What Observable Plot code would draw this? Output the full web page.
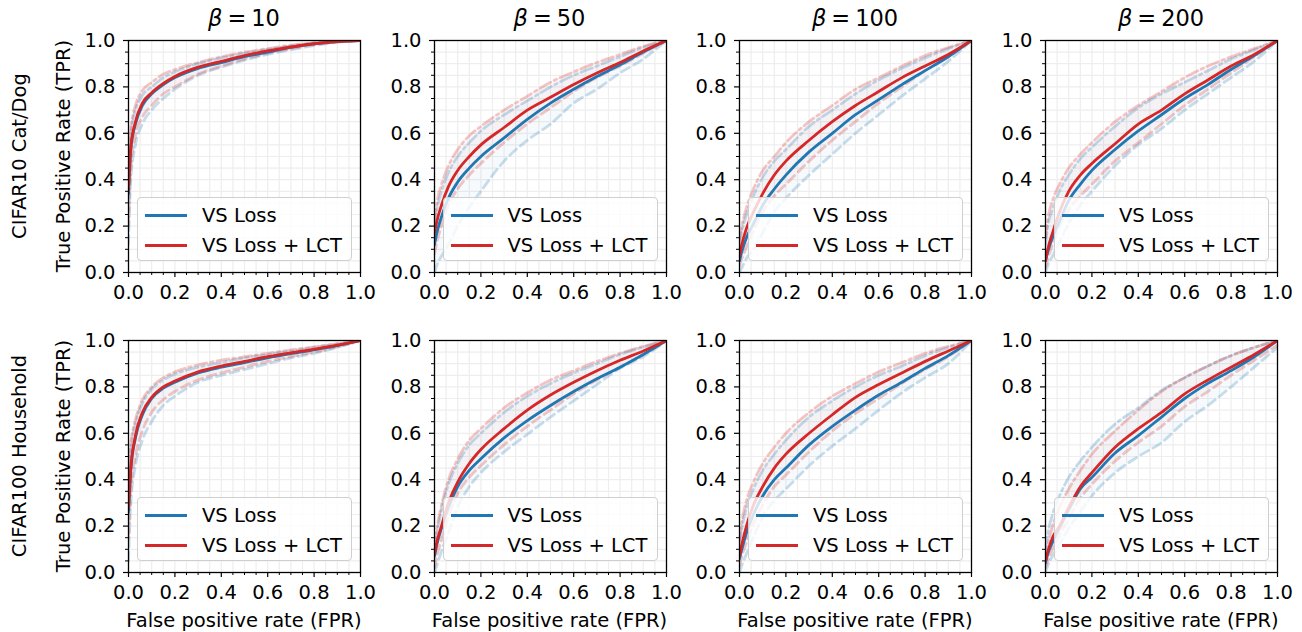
<!DOCTYPE html>
<html>
<head>
<meta charset="utf-8">
<script src="https://cdn.jsdelivr.net/npm/d3@7"></script>
<script src="https://cdn.jsdelivr.net/npm/@observablehq/plot@0.6"></script>
<style>
  body { margin: 0; background: #fff; font-family: "DejaVu Sans", sans-serif; }
  #root { position: relative; width: 1302px; height: 632px; overflow: hidden; background: #fff; }
  .abs { position: absolute; white-space: nowrap; color: #000; line-height: 1; }
  .title { font-size: 22.5px; transform: translateX(-50%); }
  .title .op { margin: 0 5px; }
  .ylab { font-size: 19.5px; transform: translate(-50%, -50%) rotate(-90deg); }
  .xlab { font-size: 19.5px; transform: translate(-50%, -50%); }
  .legend { position: absolute; box-sizing: border-box; width: 215px; height: 64px;
            border: 1px solid #cfcfcf; border-radius: 4px; background: rgba(255,255,255,0.8); }
  .legend .sw { position: absolute; left: 7px; width: 42px; height: 3px; }
  .legend .tx { position: absolute; left: 64px; font-size: 19.5px; line-height: 1; white-space: nowrap; }
  .panel { position: absolute; }
</style>
</head>
<body>
<div id="root"></div>
<script>
// ---------------- data ----------------
const fpr = [0, 0.01, 0.03, 0.06, 0.1, 0.15, 0.2, 0.3, 0.4, 0.5, 0.6, 0.7, 0.8, 0.9, 1.0];
const betas = [10, 50, 100, 200];
const datasets = ["CIFAR10 Cat/Dog", "CIFAR100 Household"];
const seriesNames = ["VS Loss", "VS Loss + LCT"];

// CIFAR10 Cat/Dog, one row per beta (10, 50, 100, 200)
const vsLossC10 = [
  [0.34, 0.53, 0.64, 0.72, 0.77, 0.81, 0.84, 0.88, 0.905, 0.93, 0.95, 0.97, 0.985, 0.995, 1.0],
  [0.12, 0.17, 0.24, 0.32, 0.39, 0.45, 0.50, 0.58, 0.66, 0.73, 0.79, 0.845, 0.895, 0.95, 1.0],
  [0.05, 0.09, 0.15, 0.21, 0.29, 0.36, 0.42, 0.52, 0.60, 0.68, 0.745, 0.81, 0.87, 0.93, 1.0],
  [0.05, 0.09, 0.15, 0.22, 0.31, 0.38, 0.44, 0.53, 0.61, 0.68, 0.75, 0.81, 0.875, 0.935, 1.0]
];
const lctC10 = [
  [0.36, 0.54, 0.65, 0.73, 0.775, 0.815, 0.845, 0.885, 0.91, 0.935, 0.955, 0.972, 0.986, 0.995, 1.0],
  [0.17, 0.22, 0.29, 0.37, 0.44, 0.50, 0.55, 0.625, 0.70, 0.755, 0.81, 0.86, 0.905, 0.955, 1.0],
  [0.07, 0.12, 0.19, 0.26, 0.34, 0.42, 0.48, 0.57, 0.65, 0.72, 0.78, 0.84, 0.89, 0.94, 1.0],
  [0.05, 0.10, 0.17, 0.26, 0.35, 0.42, 0.47, 0.555, 0.64, 0.70, 0.77, 0.83, 0.89, 0.94, 1.0]
];
const vsLossLowC10 = [
  [0.12, 0.40, 0.55, 0.64, 0.70, 0.75, 0.79, 0.85, 0.885, 0.915, 0.94, 0.96, 0.978, 0.992, 1.0],
  [0.0, 0.03, 0.07, 0.12, 0.20, 0.28, 0.35, 0.48, 0.57, 0.64, 0.73, 0.79, 0.86, 0.92, 1.0],
  [0.0, 0.02, 0.06, 0.10, 0.17, 0.26, 0.32, 0.42, 0.51, 0.60, 0.68, 0.76, 0.835, 0.91, 1.0],
  [0.0, 0.03, 0.07, 0.13, 0.21, 0.29, 0.35, 0.46, 0.55, 0.62, 0.70, 0.77, 0.84, 0.91, 1.0]
];
const vsLossHighC10 = [
  [0.45, 0.60, 0.70, 0.765, 0.80, 0.84, 0.865, 0.90, 0.925, 0.945, 0.962, 0.977, 0.99, 0.997, 1.0],
  [0.20, 0.27, 0.35, 0.43, 0.50, 0.56, 0.61, 0.68, 0.74, 0.80, 0.85, 0.89, 0.93, 0.97, 1.0],
  [0.12, 0.18, 0.25, 0.33, 0.41, 0.48, 0.53, 0.63, 0.70, 0.77, 0.83, 0.88, 0.925, 0.965, 1.0],
  [0.12, 0.20, 0.27, 0.35, 0.42, 0.49, 0.54, 0.63, 0.71, 0.77, 0.82, 0.87, 0.92, 0.96, 1.0]
];
const lctLowC10 = [
  [0.20, 0.45, 0.59, 0.67, 0.72, 0.77, 0.80, 0.855, 0.89, 0.92, 0.945, 0.965, 0.982, 0.994, 1.0],
  [0.08, 0.13, 0.20, 0.29, 0.36, 0.42, 0.47, 0.56, 0.64, 0.71, 0.78, 0.84, 0.89, 0.945, 1.0],
  [0.03, 0.06, 0.11, 0.18, 0.26, 0.33, 0.38, 0.48, 0.57, 0.65, 0.73, 0.80, 0.87, 0.93, 1.0],
  [0.02, 0.06, 0.12, 0.20, 0.27, 0.33, 0.38, 0.48, 0.56, 0.64, 0.72, 0.79, 0.86, 0.93, 1.0]
];
const lctHighC10 = [
  [0.50, 0.62, 0.72, 0.785, 0.82, 0.855, 0.875, 0.905, 0.93, 0.95, 0.965, 0.98, 0.99, 0.997, 1.0],
  [0.22, 0.30, 0.38, 0.46, 0.53, 0.59, 0.63, 0.70, 0.76, 0.82, 0.865, 0.905, 0.94, 0.975, 1.0],
  [0.14, 0.20, 0.28, 0.36, 0.44, 0.50, 0.56, 0.65, 0.72, 0.79, 0.84, 0.89, 0.935, 0.97, 1.0],
  [0.15, 0.23, 0.31, 0.38, 0.45, 0.51, 0.56, 0.65, 0.72, 0.78, 0.84, 0.89, 0.93, 0.965, 1.0]
];

// CIFAR100 Household, one row per beta (10, 50, 100, 200)
const vsLossC100 = [
  [0.26, 0.44, 0.58, 0.68, 0.75, 0.795, 0.82, 0.86, 0.885, 0.905, 0.925, 0.943, 0.96, 0.978, 1.0],
  [0.07, 0.12, 0.19, 0.28, 0.37, 0.44, 0.49, 0.58, 0.655, 0.72, 0.78, 0.835, 0.885, 0.94, 1.0],
  [0.06, 0.10, 0.17, 0.25, 0.33, 0.40, 0.45, 0.55, 0.63, 0.70, 0.765, 0.82, 0.88, 0.935, 1.0],
  [0.04, 0.08, 0.13, 0.19, 0.27, 0.36, 0.41, 0.515, 0.59, 0.67, 0.75, 0.815, 0.87, 0.93, 1.0]
];
const lctC100 = [
  [0.28, 0.45, 0.59, 0.69, 0.755, 0.80, 0.825, 0.865, 0.89, 0.91, 0.93, 0.947, 0.962, 0.98, 1.0],
  [0.08, 0.13, 0.20, 0.30, 0.39, 0.47, 0.53, 0.62, 0.70, 0.765, 0.82, 0.87, 0.915, 0.955, 1.0],
  [0.07, 0.12, 0.20, 0.29, 0.37, 0.45, 0.51, 0.60, 0.68, 0.755, 0.81, 0.86, 0.91, 0.955, 1.0],
  [0.05, 0.09, 0.15, 0.20, 0.28, 0.37, 0.43, 0.54, 0.62, 0.69, 0.77, 0.83, 0.885, 0.94, 1.0]
];
const vsLossLowC100 = [
  [0.05, 0.30, 0.46, 0.57, 0.65, 0.72, 0.76, 0.82, 0.85, 0.875, 0.90, 0.925, 0.945, 0.97, 1.0],
  [0.0, 0.03, 0.09, 0.17, 0.28, 0.37, 0.43, 0.52, 0.595, 0.67, 0.74, 0.81, 0.88, 0.93, 1.0],
  [0.0, 0.03, 0.08, 0.15, 0.24, 0.31, 0.36, 0.46, 0.545, 0.62, 0.70, 0.775, 0.84, 0.90, 1.0],
  [0.0, 0.03, 0.07, 0.12, 0.19, 0.26, 0.33, 0.43, 0.50, 0.56, 0.65, 0.72, 0.80, 0.885, 0.97]
];
const vsLossHighC100 = [
  [0.40, 0.53, 0.64, 0.73, 0.79, 0.83, 0.855, 0.885, 0.905, 0.925, 0.94, 0.955, 0.97, 0.985, 1.0],
  [0.10, 0.17, 0.27, 0.38, 0.47, 0.55, 0.60, 0.69, 0.76, 0.815, 0.86, 0.90, 0.94, 0.972, 1.0],
  [0.12, 0.19, 0.28, 0.36, 0.44, 0.51, 0.57, 0.67, 0.74, 0.80, 0.85, 0.89, 0.935, 0.97, 1.0],
  [0.10, 0.17, 0.25, 0.33, 0.41, 0.48, 0.54, 0.64, 0.71, 0.785, 0.84, 0.89, 0.935, 0.97, 1.0]
];
const lctLowC100 = [
  [0.15, 0.35, 0.50, 0.61, 0.69, 0.745, 0.78, 0.83, 0.86, 0.885, 0.91, 0.93, 0.95, 0.972, 1.0],
  [0.02, 0.07, 0.14, 0.24, 0.34, 0.41, 0.46, 0.55, 0.63, 0.70, 0.77, 0.83, 0.885, 0.94, 1.0],
  [0.03, 0.07, 0.13, 0.21, 0.29, 0.37, 0.42, 0.52, 0.61, 0.685, 0.75, 0.815, 0.875, 0.93, 1.0],
  [0.02, 0.05, 0.10, 0.16, 0.23, 0.32, 0.38, 0.48, 0.56, 0.63, 0.715, 0.78, 0.85, 0.915, 0.98]
];
const lctHighC100 = [
  [0.45, 0.56, 0.66, 0.745, 0.80, 0.84, 0.865, 0.895, 0.915, 0.93, 0.945, 0.96, 0.973, 0.987, 1.0],
  [0.12, 0.19, 0.29, 0.40, 0.49, 0.57, 0.62, 0.71, 0.775, 0.83, 0.87, 0.91, 0.945, 0.975, 1.0],
  [0.14, 0.22, 0.31, 0.39, 0.47, 0.54, 0.60, 0.69, 0.76, 0.815, 0.865, 0.905, 0.945, 0.975, 1.0],
  [0.06, 0.12, 0.20, 0.28, 0.36, 0.44, 0.51, 0.61, 0.70, 0.78, 0.84, 0.89, 0.935, 0.97, 1.0]
];

// axis ticks
const majorTicks = [0, 0.2, 0.4, 0.6, 0.8, 1.0];
const minorTicks = [0.05, 0.1, 0.15, 0.25, 0.3, 0.35, 0.45, 0.5, 0.55, 0.65, 0.7, 0.75, 0.85, 0.9, 0.95];
const gridValues = [0.05, 0.1, 0.15, 0.2, 0.25, 0.3, 0.35, 0.4, 0.45, 0.5, 0.55, 0.6, 0.65, 0.7, 0.75, 0.8, 0.85, 0.9, 0.95];

const tables = [
  {main: [vsLossC10, lctC10], low: [vsLossLowC10, lctLowC10], high: [vsLossHighC10, lctHighC10]},
  {main: [vsLossC100, lctC100], low: [vsLossLowC100, lctLowC100], high: [vsLossHighC100, lctHighC100]}
];

// ---------------- layout ----------------
const BLUE = "#1f77b4", RED = "#d62728";
const colX = [128, 433.5, 739, 1045];
const rowY = [40, 340];
const PW = 232, PH = 232;
const ML = 60, MR = 12, MT = 12, MB = 40;
const root = document.getElementById("root");

function rows(arr) { return fpr.map((x, i) => ({fpr: x, tpr: arr[i]})); }
function band(lo, hi) { return fpr.map((x, i) => ({fpr: x, lo: lo[i], hi: hi[i]})); }

function makePanel(r, c) {
  const t = tables[r];
  const colors = [BLUE, RED];
  const marks = [
    Plot.gridX(gridValues, {stroke: "#eeeeee", strokeOpacity: 1, strokeWidth: 1.2}),
    Plot.gridY(gridValues, {stroke: "#eeeeee", strokeOpacity: 1, strokeWidth: 1.2})
  ];
  for (let s = 0; s < 2; s++) {
    marks.push(Plot.areaY(band(t.low[s][c], t.high[s][c]), {
      x: "fpr", y1: "lo", y2: "hi", fill: colors[s], fillOpacity: 0.04, curve: "monotone-x", clip: true
    }));
  }
  for (let s = 0; s < 2; s++) {
    marks.push(Plot.line(rows(t.low[s][c]), {
      x: "fpr", y: "tpr", stroke: colors[s], strokeOpacity: 0.25, strokeWidth: 2.8,
      strokeDasharray: "9,5", curve: "monotone-x", clip: true
    }));
    marks.push(Plot.line(rows(t.high[s][c]), {
      x: "fpr", y: "tpr", stroke: colors[s], strokeOpacity: 0.25, strokeWidth: 2.8,
      strokeDasharray: "12,4,2.5,4", curve: "monotone-x", clip: true
    }));
  }
  for (let s = 0; s < 2; s++) {
    marks.push(Plot.line(rows(t.main[s][c]), {
      x: "fpr", y: "tpr", stroke: colors[s], strokeWidth: 2.8, curve: "monotone-x", clip: true
    }));
  }
  marks.push(
    Plot.frame({stroke: "#000", strokeWidth: 1.3}),
    Plot.axisX(majorTicks, {tickSize: 5, tickPadding: 8, tickFormat: d3.format(".1f"), label: null, strokeWidth: 1.2}),
    Plot.axisX(minorTicks, {tickSize: 3, tickFormat: () => "", label: null, strokeWidth: 1}),
    Plot.axisY(majorTicks, {tickSize: 5, tickPadding: 8, tickFormat: d3.format(".1f"), label: null, strokeWidth: 1.2}),
    Plot.axisY(minorTicks, {tickSize: 3, tickFormat: () => "", label: null, strokeWidth: 1})
  );
  const svg = Plot.plot({
    width: PW + ML + MR, height: PH + MT + MB,
    marginLeft: ML, marginRight: MR, marginTop: MT, marginBottom: MB,
    x: {domain: [0, 1]}, y: {domain: [0, 1]},
    style: {fontFamily: "DejaVu Sans", fontSize: "19.5px", color: "#000", background: "transparent", overflow: "visible"},
    marks
  });
  svg.classList.add("panel");
  svg.style.left = (colX[c] - ML) + "px";
  svg.style.top = (rowY[r] - MT) + "px";
  root.appendChild(svg);

  // legend
  const lg = document.createElement("div");
  lg.className = "legend";
  lg.style.left = (colX[c] + 9) + "px";
  lg.style.top = (rowY[r] + 157) + "px";
  seriesNames.forEach((name, s) => {
    const sw = document.createElement("div");
    sw.className = "sw";
    sw.style.background = colors[s];
    sw.style.top = (15.5 + s * 30) + "px";
    lg.appendChild(sw);
    const tx = document.createElement("div");
    tx.className = "tx";
    tx.style.top = (8 + s * 30) + "px";
    tx.textContent = name;
    lg.appendChild(tx);
  });
  root.appendChild(lg);
}

for (let r = 0; r < 2; r++) for (let c = 0; c < 4; c++) makePanel(r, c);

// titles
betas.forEach((b, c) => {
  const d = document.createElement("div");
  d.className = "abs title";
  d.style.left = (colX[c] + PW / 2) + "px";
  d.style.top = "7px";
  d.innerHTML = `<i>β</i><span class="op">=</span>${b}`;
  root.appendChild(d);
});
// row labels and y labels
datasets.forEach((name, r) => {
  const cy = rowY[r] + PH / 2;
  const a = document.createElement("div");
  a.className = "abs ylab";
  a.style.left = "20px"; a.style.top = cy + "px";
  a.textContent = name;
  root.appendChild(a);
  const b = document.createElement("div");
  b.className = "abs ylab";
  b.style.left = "64px"; b.style.top = cy + "px";
  b.textContent = "True Positive Rate (TPR)";
  root.appendChild(b);
});
// x labels
colX.forEach((x) => {
  const d = document.createElement("div");
  d.className = "abs xlab";
  d.style.left = (x + PW / 2) + "px";
  d.style.top = "621px";
  d.textContent = "False positive rate (FPR)";
  root.appendChild(d);
});
</script>
</body>
</html>
